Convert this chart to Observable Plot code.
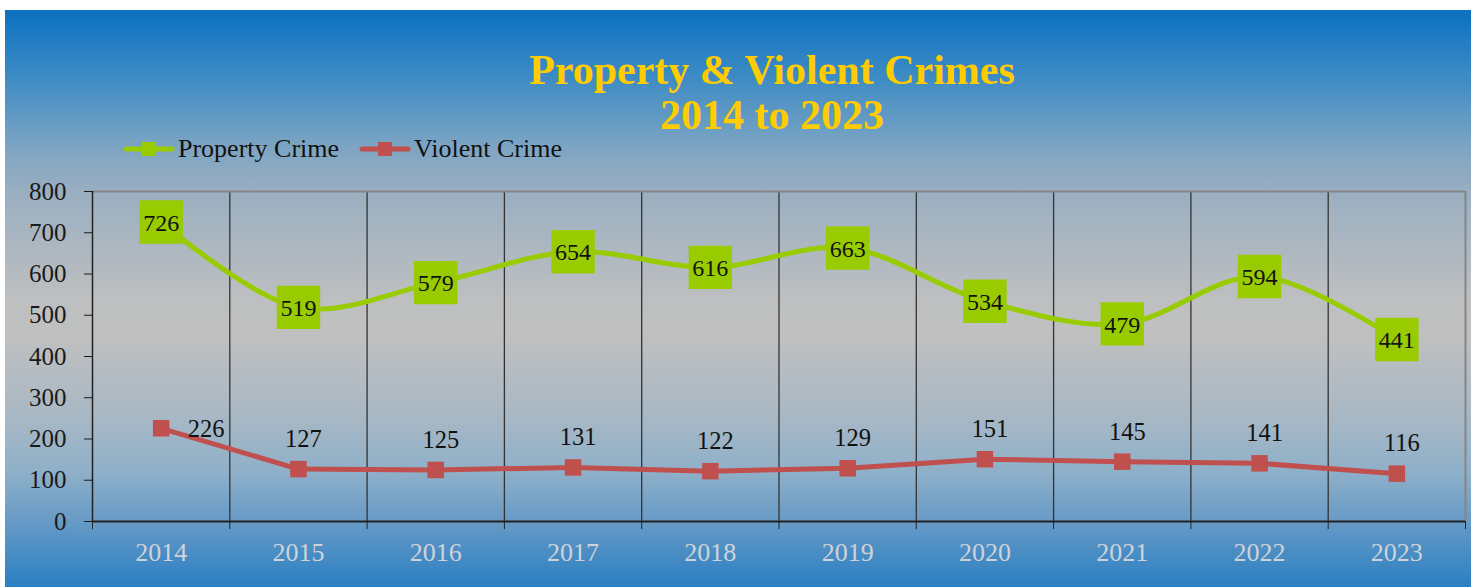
<!DOCTYPE html>
<html>
<head>
<meta charset="utf-8">
<script src="https://cdn.jsdelivr.net/npm/d3@7"></script>
<script src="https://cdn.jsdelivr.net/npm/@observablehq/plot@0.6"></script>
<style>
  html, body { margin: 0; padding: 0; background: #ffffff; }
  body { width: 1476px; height: 587px; position: relative; overflow: hidden; font-family: "Liberation Serif", "Times New Roman", serif; }
  #bg { position: absolute; left: 5px; top: 10px; width: 1466px; height: 577px;
        background: linear-gradient(to bottom, #0a70c0 0%, #3f8cc4 12%, #7ea5c3 24%, #9bafc1 32%, #bdbfc0 50%, #c0c0c0 56%, #a9b8c4 70%, #8fb0c9 80%, #6a9cc6 88%, #2a7fc3 100%); }
  #title { position: absolute; left: 472px; width: 600px; top: 48px; text-align: center;
           color: #ffcc00; font-weight: bold; font-size: 42px; line-height: 45px; white-space: nowrap; }
  #legend { position: absolute; left: 123px; top: 134px; height: 30px; font-size: 26px; color: #111; display: flex; align-items: center; }
  #legend .item { display: flex; align-items: center; margin-right: 20px; }
  #chart { position: absolute; left: 0; top: 160px; }
</style>
</head>
<body>
<div id="bg"></div>
<div id="title">Property &amp; Violent Crimes<br>2014 to 2023</div>
<div id="legend"></div>
<div id="chart"></div>
<script>
const years = [2014, 2015, 2016, 2017, 2018, 2019, 2020, 2021, 2022, 2023];
const propertyCrime = [726, 519, 579, 654, 616, 663, 534, 479, 594, 441];
const violentCrime = [226, 127, 125, 131, 122, 129, 151, 145, 141, 116];
const yTicks = [0, 100, 200, 300, 400, 500, 600, 700, 800];
const seriesNames = ["Property Crime", "Violent Crime"];
const seriesColors = ["#99cc00", "#c0504d"];

const data = years.map((y, i) => ({year: y, property: propertyCrime[i], violent: violentCrime[i]}));
const boundaries = [...years.map(y => y - 0.5), years[years.length - 1] + 0.5];
const font = "'Liberation Serif', 'Times New Roman', serif";

// legend
const legend = document.getElementById("legend");
seriesNames.forEach((name, i) => {
  const item = document.createElement("div");
  item.className = "item";
  item.innerHTML = `<svg width="52" height="16" style="margin-right:3px"><line x1="3" y1="8" x2="49" y2="8" stroke="${seriesColors[i]}" stroke-width="5" stroke-linecap="round"/><rect x="19" y="1" width="14" height="14" fill="${seriesColors[i]}"/></svg><span>${name}</span>`;
  legend.appendChild(item);
});

const chart = Plot.plot({
  width: 1476,
  height: 427,
  marginLeft: 92,
  marginRight: 11,
  marginTop: 31,
  marginBottom: 66,
  style: {background: "transparent", fontFamily: font, fontSize: "24px", overflow: "visible"},
  x: {domain: [boundaries[0], boundaries[boundaries.length - 1]]},
  y: {domain: [0, 800]},
  marks: [
    Plot.ruleX(boundaries.slice(1, -1), {stroke: "#333", strokeWidth: 1.3}),
    Plot.ruleY([800], {stroke: "#858585", strokeWidth: 2}),
    Plot.ruleX([boundaries[boundaries.length - 1]], {stroke: "#858585", strokeWidth: 2}),
    Plot.ruleX([boundaries[0]], {stroke: "#222", strokeWidth: 1.5}),
    Plot.axisY({ticks: yTicks, tickSize: 8, tickPadding: 18, color: "#1a1a1a", label: null, fontSize: 25}),
    Plot.axisX({ticks: boundaries, tickSize: 8, tickFormat: () => "", color: "#222", label: null}),
    Plot.axisX({ticks: years, tickSize: 0, tickPadding: 21, tickFormat: d => String(d), color: "#cfd3d8", label: null, fontSize: 26}),
    Plot.ruleY([0], {stroke: "#222", strokeWidth: 2}),
    Plot.line(data, {x: "year", y: "violent", stroke: seriesColors[1], strokeWidth: 5, curve: "linear"}),
    Plot.dot(data, {x: "year", y: "violent", symbol: "square", r: 9.3, fill: seriesColors[1]}),
    Plot.line(data, {x: "year", y: "property", stroke: seriesColors[0], strokeWidth: 5, curve: "catmull-rom"}),
    Plot.dot(data, {x: "year", y: "property", symbol: "square", r: 24.5, fill: seriesColors[0]}),
    Plot.text(data, {x: "year", y: "property", text: "property", fontSize: 24, fill: "#111", dy: 1}),
    Plot.text(data.slice(1), {x: "year", y: "violent", text: "violent", fontSize: 24.5, fill: "#111", dx: 5, dy: -30}),
    Plot.text(data.slice(0, 1), {x: "year", y: "violent", text: "violent", fontSize: 24.5, fill: "#111", dx: 45, dy: 1})
  ]
});
document.getElementById("chart").appendChild(chart);
</script>
</body>
</html>
